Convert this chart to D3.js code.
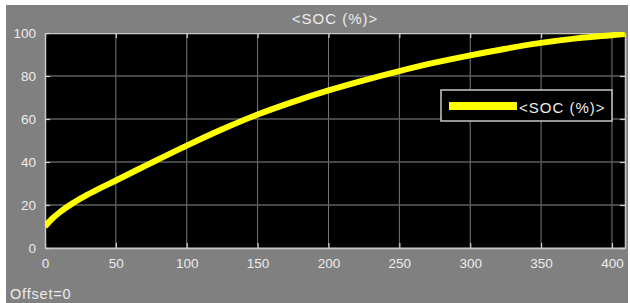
<!DOCTYPE html>
<html>
<head>
<meta charset="utf-8">
<script src="https://cdn.jsdelivr.net/npm/d3@7"></script>
<style>
  body { margin: 0; background: #fff; }
  svg { display: block; }
  text { font-family: "Liberation Sans", Arial, sans-serif; }
</style>
</head>
<body>
<div id="visHolder"></div>
<script>
let width = 630;
let height = 303;

// time (s) and SOC (%)
let times = [0, 5, 10, 15, 20, 30, 40, 50, 75, 100, 125, 150, 175, 200, 225, 250, 275, 300, 325, 350, 375, 400, 409];
let soc = [10, 13.6, 16.4, 18.8, 21.0, 24.8, 28.2, 31.4, 39.6, 47.6, 55.2, 62.1, 68.0, 73.3, 78.0, 82.3, 86.2, 89.6, 92.7, 95.4, 97.5, 99.0, 99.5];
let xTicks = [0, 50, 100, 150, 200, 250, 300, 350, 400];
let yTicks = [0, 20, 40, 60, 80, 100];
let title = "<SOC (%)>";
let seriesName = "<SOC (%)>";

let plotLeft = 45, plotRight = 625, plotTop = 33, plotBottom = 248;

let svg = d3.select("#visHolder")
    .append("svg")
    .attr("width", width)
    .attr("height", height);

svg.append("rect")
    .attr("x", 6).attr("y", 5)
    .attr("width", 622).attr("height", 298)
    .attr("fill", "#808080");

let xScale = d3.scaleLinear().domain([0, 409.2]).range([plotLeft, plotRight]);
let yScale = d3.scaleLinear().domain([0, 100]).range([plotBottom, plotTop]);

svg.append("rect")
    .attr("x", plotLeft).attr("y", plotTop)
    .attr("width", plotRight - plotLeft).attr("height", plotBottom - plotTop)
    .attr("fill", "#000");

// grid
svg.append("g")
    .selectAll("line")
    .data(xTicks)
    .enter()
    .append("line")
    .attr("x1", d => xScale(d)).attr("x2", d => xScale(d))
    .attr("y1", plotTop).attr("y2", plotBottom)
    .attr("stroke", "#7a7a7a")
    .attr("stroke-width", 1);
svg.append("g")
    .selectAll("line")
    .data(yTicks)
    .enter()
    .append("line")
    .attr("x1", plotLeft).attr("x2", plotRight)
    .attr("y1", d => yScale(d)).attr("y2", d => yScale(d))
    .attr("stroke", "#5e5e5e")
    .attr("stroke-width", 1.3);

// axes with inward ticks
let xAxis = d3.axisBottom(xScale).tickValues(xTicks).tickSize(-5).tickPadding(10).tickSizeOuter(0);
let xAxisTop = d3.axisTop(xScale).tickValues(xTicks).tickSize(-5).tickFormat("").tickSizeOuter(0);
let yAxis = d3.axisLeft(yScale).tickValues(yTicks).tickSize(-5).tickPadding(9).tickSizeOuter(0);
let yAxisRight = d3.axisRight(yScale).tickValues(yTicks).tickSize(-5).tickFormat("").tickSizeOuter(0);

let gx = svg.append("g").attr("transform", "translate(0," + plotBottom + ")").call(xAxis);
let gxt = svg.append("g").attr("transform", "translate(0," + plotTop + ")").call(xAxisTop);
let gy = svg.append("g").attr("transform", "translate(" + plotLeft + ",0)").call(yAxis);
let gyr = svg.append("g").attr("transform", "translate(" + plotRight + ",0)").call(yAxisRight);

[gx, gxt, gy, gyr].forEach(g => {
    g.select(".domain").attr("stroke", "#c8c8c8").attr("stroke-width", 1.5);
    g.selectAll(".tick line").attr("stroke", "#d0d0d0").attr("stroke-width", 1.2);
    g.selectAll(".tick text")
        .attr("fill", "#ececec")
        .style("font-size", "13.5px")
        .style("font-family", "Liberation Sans, Arial, sans-serif");
});

// clip + curve
svg.append("clipPath").attr("id", "plotClip")
    .append("rect")
    .attr("x", plotLeft).attr("y", plotTop - 1)
    .attr("width", plotRight - plotLeft).attr("height", plotBottom - plotTop + 1);

let line = d3.line()
    .x((d, i) => xScale(times[i]))
    .y(d => yScale(d))
    .curve(d3.curveCatmullRom);

svg.append("path")
    .datum(soc)
    .attr("d", line)
    .attr("clip-path", "url(#plotClip)")
    .attr("fill", "none")
    .attr("stroke", "#ffff00")
    .attr("stroke-width", 6);

// title
svg.append("text")
    .attr("x", (plotLeft + plotRight) / 2)
    .attr("y", 24)
    .attr("text-anchor", "middle")
    .attr("fill", "#ececec")
    .style("font-size", "15px")
    .style("letter-spacing", "1px")
    .text(title);

// legend
let legend = svg.append("g");
legend.append("rect")
    .attr("x", 441).attr("y", 90)
    .attr("width", 171).attr("height", 31)
    .attr("fill", "#000")
    .attr("stroke", "#c8c8c8")
    .attr("stroke-width", 1.5);
legend.append("line")
    .attr("x1", 449).attr("x2", 517)
    .attr("y1", 106).attr("y2", 106)
    .attr("stroke", "#ffff00")
    .attr("stroke-width", 8);
legend.append("text")
    .attr("x", 519).attr("y", 113)
    .attr("fill", "#ececec")
    .style("font-size", "15px")
    .style("letter-spacing", "1px")
    .text(seriesName);

// offset label
svg.append("text")
    .attr("x", 10).attr("y", 299)
    .attr("fill", "#ececec")
    .style("font-size", "14.5px")
    .style("letter-spacing", "0.8px")
    .text("Offset=0");
</script>
</body>
</html>
